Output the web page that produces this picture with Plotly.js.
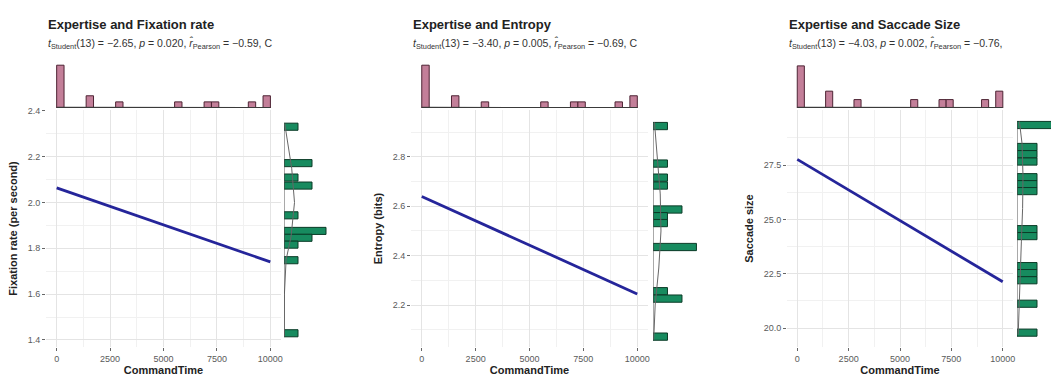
<!DOCTYPE html>
<html>
<head>
<meta charset="utf-8">
<script src="https://cdn.plot.ly/plotly-3.0.1.min.js"></script>
<style>html,body{margin:0;padding:0;background:#fff;}#chart{width:1051px;height:379px;}</style>
</head>
<body>
<div id="chart"></div>
<script>
// ---------- data ----------
const xTicks = [0, 2500, 5000, 7500, 10000];

// top marginal histogram of CommandTime (bin centers, counts)
const cmdBins = [172, 1552, 2932, 5692, 7072, 7417, 9142, 9832];
const cmdCounts1 = [7, 2, 1, 1, 1, 1, 1, 2];
const cmdCounts2 = [7, 2, 1, 1, 1, 1, 1, 2];
const cmdCounts3 = [5, 2, 1, 1, 1, 1, 1, 2];
const cmdDensX = [0, 1000, 2000, 3000, 4000, 5000, 6000, 7000, 8000, 9000, 10000];
const cmdDens  = [0.06, 0.05, 0.04, 0.03, 0.02, 0.02, 0.02, 0.02, 0.02, 0.02, 0.03];

// Panel 1: Fixation rate
const fixBins   = [2.331, 2.172, 2.109, 2.074, 1.944, 1.876, 1.846, 1.816, 1.748, 1.429];
const fixCounts = [1, 2, 1, 2, 1, 3, 2, 1, 1, 1];
const fixDensY  = [2.345, 2.25, 2.15, 2.0, 1.85, 1.75, 1.6, 1.415];
const fixDensV  = [0.05, 0.3, 0.55, 0.75, 0.5, 0.15, 0.03, 0.02];
const fixFitX = [0, 10000];
const fixFitY = [2.064, 1.741];
const fixTicks = [1.4, 1.6, 1.8, 2.0, 2.2, 2.4];

// Panel 2: Entropy
const entBins   = [2.925, 2.773, 2.716, 2.684, 2.587, 2.560, 2.532, 2.435, 2.256, 2.226, 2.072];
const entCounts = [1, 1, 1, 1, 2, 1, 1, 3, 1, 2, 1];
const entDensY  = [2.94, 2.8, 2.65, 2.5, 2.35, 2.2, 2.06];
const entDensV  = [0.1, 0.3, 0.5, 0.55, 0.4, 0.15, 0.05];
const entFitX = [0, 10000];
const entFitY = [2.640, 2.245];
const entTicks = [2.2, 2.4, 2.6, 2.8];

// Panel 3: Saccade size
const sacBins   = [29.34, 28.33, 28.00, 27.66, 26.94, 26.62, 26.30, 24.55, 24.23, 22.85, 22.53, 22.20, 21.12, 19.79];
const sacCounts = [2, 1, 1, 1, 1, 1, 1, 1, 1, 1, 1, 1, 1, 1];
const sacDensY  = [29.5, 28.5, 27, 25.5, 24, 22.5, 21, 19.7];
const sacDensV  = [0.12, 0.25, 0.3, 0.28, 0.22, 0.17, 0.1, 0.06];
const sacFitX = [0, 10000];
const sacFitY = [27.76, 22.13];
const sacTicks = [20.0, 22.5, 25.0, 27.5];

const titles = ["Expertise and Fixation rate", "Expertise and Entropy", "Expertise and Saccade Size"];
const subtitles = [
  "<i>t</i><sub>Student</sub>(13) = \u22122.65, <i>p</i> = 0.020, <i>r\u0302</i><sub>Pearson</sub> = \u22120.59, C",
  "<i>t</i><sub>Student</sub>(13) = \u22123.40, <i>p</i> = 0.005, <i>r\u0302</i><sub>Pearson</sub> = \u22120.69, C",
  "<i>t</i><sub>Student</sub>(13) = \u22124.03, <i>p</i> = 0.002, <i>r\u0302</i><sub>Pearson</sub> = \u22120.76,"
];
const yTitles = ["Fixation rate (per second)", "Entropy (bits)", "Saccade size"];
const xTitle = "CommandTime";

// ---------- layout geometry (pixels) ----------
const W = 1051, H = 379;
const fx = p => p / W;
const fy = p => 1 - p / H;
const FONT = "Liberation Sans, Arial, sans-serif";
const PINK = "rgba(192,120,148,0.95)", PINK_L = "#4e2434";
const GREEN = "rgba(16,135,90,0.97)", GREEN_L = "#0b3b27";

const panels = [
  {main: [46, 281], right: [284, 340], rightRange: [0, 4], topRange: [0, 7.85],
   yRange: [1.369, 2.404], yTicks: fixTicks, fmt: ".1f", minor: 0.1,
   cmd: cmdCounts1, bins: fixBins, counts: fixCounts, bw: 0.031,
   densY: fixDensY, densV: fixDensV, fitX: fixFitX, fitY: fixFitY},
  {main: [411, 648], right: [653, 705], rightRange: [0, 3.59], topRange: [0, 7.85],
   yRange: [2.030, 2.990], yTicks: entTicks, fmt: ".1f", minor: 0.1,
   cmd: cmdCounts2, bins: entBins, counts: entCounts, bw: 0.0294,
   densY: entDensY, densV: entDensV, fitX: entFitX, fitY: entFitY},
  {main: [787, 1013], right: [1017, 1051], rightRange: [0, 1.7], topRange: [0, 5.7],
   yRange: [19.13, 30.03], yTicks: sacTicks, fmt: ".1f", minor: 1.25,
   cmd: cmdCounts3, bins: sacBins, counts: sacCounts, bw: 0.329,
   densY: sacDensY, densV: sacDensV, fitX: sacFitX, fitY: sacFitY}
];

const MAIN_TOP = 110, MAIN_BOT = 347, TOP_TOP = 60, TOP_BOT = 108;

const data = [];
const layout = {
  width: W, height: H, autosize: false,
  margin: {l: 0, r: 0, t: 0, b: 0, pad: 0},
  paper_bgcolor: "#fff", plot_bgcolor: "rgba(0,0,0,0)",
  showlegend: false,
  font: {family: FONT, size: 9, color: "#333"},
  annotations: []
};

const hidden = {visible: false, showgrid: false, zeroline: false, showline: false,
                showticklabels: false, ticks: "", fixedrange: true};

panels.forEach((p, i) => {
  const n = i * 3;
  const key = k => (k === 1 ? "" : k);
  const mx = "x" + key(n + 1), my = "y" + key(n + 1);
  const tx = "x" + (n + 2), ty = "y" + (n + 2);
  const rx = "x" + (n + 3), ry = "y" + (n + 3);

  // main axes
  layout["xaxis" + key(n + 1)] = {
    domain: [fx(p.main[0]), fx(p.main[1])], anchor: my, range: [-500, 10500],
    tickvals: xTicks, ticktext: xTicks.map(String),
    ticks: "outside", ticklen: 3, tickwidth: 1, tickcolor: "#666",
    tickfont: {size: 9, color: "#5a5a5a", family: FONT},
    showgrid: true, gridcolor: "#e4e4e4", gridwidth: 1,
    minor: {dtick: 1250, tick0: 0, showgrid: true, gridcolor: "#f1f1f1", gridwidth: 1},
    zeroline: false, showline: false,
    title: {text: "<b>" + xTitle + "</b>", font: {size: 11, color: "#222", family: FONT}, standoff: 3}
  };
  layout["yaxis" + key(n + 1)] = {
    domain: [fy(MAIN_BOT), fy(MAIN_TOP)], anchor: mx, range: p.yRange,
    tickvals: p.yTicks, tickformat: p.fmt,
    ticks: "outside", ticklen: 3, tickwidth: 1, tickcolor: "#666",
    tickfont: {size: 9, color: "#5a5a5a", family: FONT},
    showgrid: true, gridcolor: "#e4e4e4", gridwidth: 1,
    minor: {dtick: p.minor, tick0: p.yTicks[0], showgrid: true, gridcolor: "#f1f1f1", gridwidth: 1},
    zeroline: false, showline: false,
    title: {text: "<b>" + yTitles[i] + "</b>", font: {size: 11, color: "#222", family: FONT}, standoff: 7}
  };
  // top marginal
  layout["xaxis" + (n + 2)] = Object.assign({}, hidden, {domain: [fx(p.main[0]), fx(p.main[1])], anchor: ty, range: [-500, 10500]});
  layout["yaxis" + (n + 2)] = Object.assign({}, hidden, {domain: [fy(TOP_BOT), fy(TOP_TOP)], anchor: tx, range: p.topRange});
  // right marginal
  layout["xaxis" + (n + 3)] = Object.assign({}, hidden, {domain: [fx(p.right[0]), fx(p.right[1])], anchor: ry, range: p.rightRange});
  layout["yaxis" + (n + 3)] = Object.assign({}, hidden, {domain: [fy(MAIN_BOT), fy(MAIN_TOP)], anchor: rx, range: p.yRange});

  // regression line
  data.push({type: "scatter", mode: "lines", x: p.fitX, y: p.fitY, xaxis: mx, yaxis: my,
             line: {color: "#25259a", width: 2.8}, hoverinfo: "skip"});
  // top histogram
  data.push({type: "bar", x: cmdBins, y: p.cmd, width: 345, xaxis: tx, yaxis: ty,
             marker: {color: PINK, line: {color: PINK_L, width: 1}}, hoverinfo: "skip"});
  data.push({type: "scatter", mode: "lines", x: cmdDensX, y: cmdDens, xaxis: tx, yaxis: ty,
             line: {color: "#3a3a3a", width: 1.6}, hoverinfo: "skip"});
  // right histogram
  data.push({type: "bar", orientation: "h", x: p.counts, y: p.bins, width: p.bw, xaxis: rx, yaxis: ry,
             marker: {color: GREEN, line: {color: GREEN_L, width: 1}}, hoverinfo: "skip"});
  data.push({type: "scatter", mode: "lines", x: p.densV, y: p.densY, xaxis: rx, yaxis: ry,
             line: {color: "#666", width: 1}, hoverinfo: "skip"});
  data.push({type: "scatter", mode: "lines", x: [0, 0], y: [p.densY[0], p.densY[p.densY.length - 1]], xaxis: rx, yaxis: ry,
             line: {color: "#555", width: 1}, hoverinfo: "skip"});

  // titles
  layout.annotations.push({xref: "paper", yref: "paper", x: fx(p.main[0]), y: fy(24),
    xanchor: "left", yanchor: "middle", showarrow: false,
    text: "<b>" + titles[i] + "</b>", font: {size: 13, color: "#222", family: FONT}});
  layout.annotations.push({xref: "paper", yref: "paper", x: fx(p.main[0]), y: fy(44),
    xanchor: "left", yanchor: "middle", showarrow: false,
    text: subtitles[i], font: {size: 10.5, color: "#333", family: FONT}});
});

Plotly.newPlot("chart", data, layout, {staticPlot: true, displayModeBar: false});
</script>
</body>
</html>
